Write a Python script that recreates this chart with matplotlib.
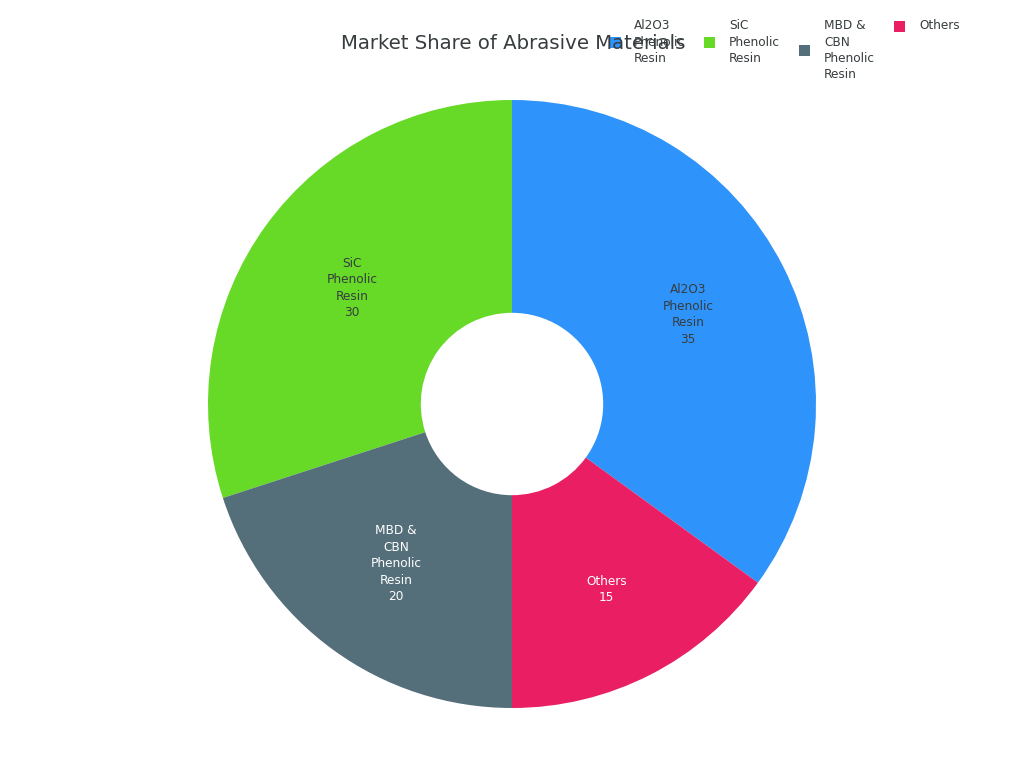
import matplotlib
matplotlib.use("Agg")
import matplotlib.pyplot as plt
from matplotlib.patches import Rectangle
import numpy as np

categories = ["Al2O3 Phenolic Resin", "SiC Phenolic Resin", "MBD & CBN Phenolic Resin", "Others"]
wrapped = ["Al2O3\nPhenolic\nResin", "SiC\nPhenolic\nResin", "MBD &\nCBN\nPhenolic\nResin", "Others"]
values = [35, 30, 20, 15]
colors = ["#2E93FA", "#66DA26", "#546E7A", "#E91E63"]
label_colors = ["#373D3F", "#373D3F", "#FFFFFF", "#FFFFFF"]
title = "Market Share of Abrasive Materials"

W, H = 1024, 768
fig = plt.figure(figsize=(W / 100, H / 100), dpi=100)
fig.patch.set_facecolor("white")

cx, cy, R = 512, 404, 304
ax = fig.add_axes([(cx - R) / W, (H - cy - R) / H, 2 * R / W, 2 * R / H])
ax.set_aspect("equal")

total = sum(values)
start = 90 - 360 * values[0] / total
inner = 0.3
wedges, _ = ax.pie(values, colors=colors, startangle=start, counterclock=True,
                   radius=1.0, wedgeprops=dict(width=1 - inner, linewidth=0))
label_r = [0.65, 0.65, 0.65, 0.685]
ang = start
for v, lab, lc, rr in zip(values, wrapped, label_colors, label_r):
    a = ang + 360 * v / total / 2
    ang += 360 * v / total
    x = rr * np.cos(np.radians(a))
    y = rr * np.sin(np.radians(a))
    ax.text(x, y, f"{lab}\n{v}", ha="center", va="center", fontsize=8.7,
            color=lc, linespacing=1.35)
ax.set_xlim(-1, 1)
ax.set_ylim(-1, 1)
ax.axis("off")

fig.text(513 / W, 1 - 43.5 / H, title, ha="center", va="center", fontsize=14.2, color="#373D3F")

# legend
text_x = [634, 729, 824, 919]
marker_x = [615, 709, 804, 899]
top_y = 19
line_h = 15.5
ms = 11
for i, (lab, c) in enumerate(zip(wrapped, colors)):
    nlines = lab.count("\n") + 1
    fig.text(text_x[i] / W, 1 - top_y / H, lab, ha="left", va="top", fontsize=8.7,
             color="#373D3F", linespacing=1.35)
    mid = top_y + nlines * line_h / 2
    fig.patches.append(Rectangle(((marker_x[i] - ms / 2) / W, 1 - (mid + ms / 2) / H),
                                 ms / W, ms / H, transform=fig.transFigure,
                                 facecolor=c, edgecolor="none"))

fig.savefig("out.png", dpi=100, facecolor="white")
